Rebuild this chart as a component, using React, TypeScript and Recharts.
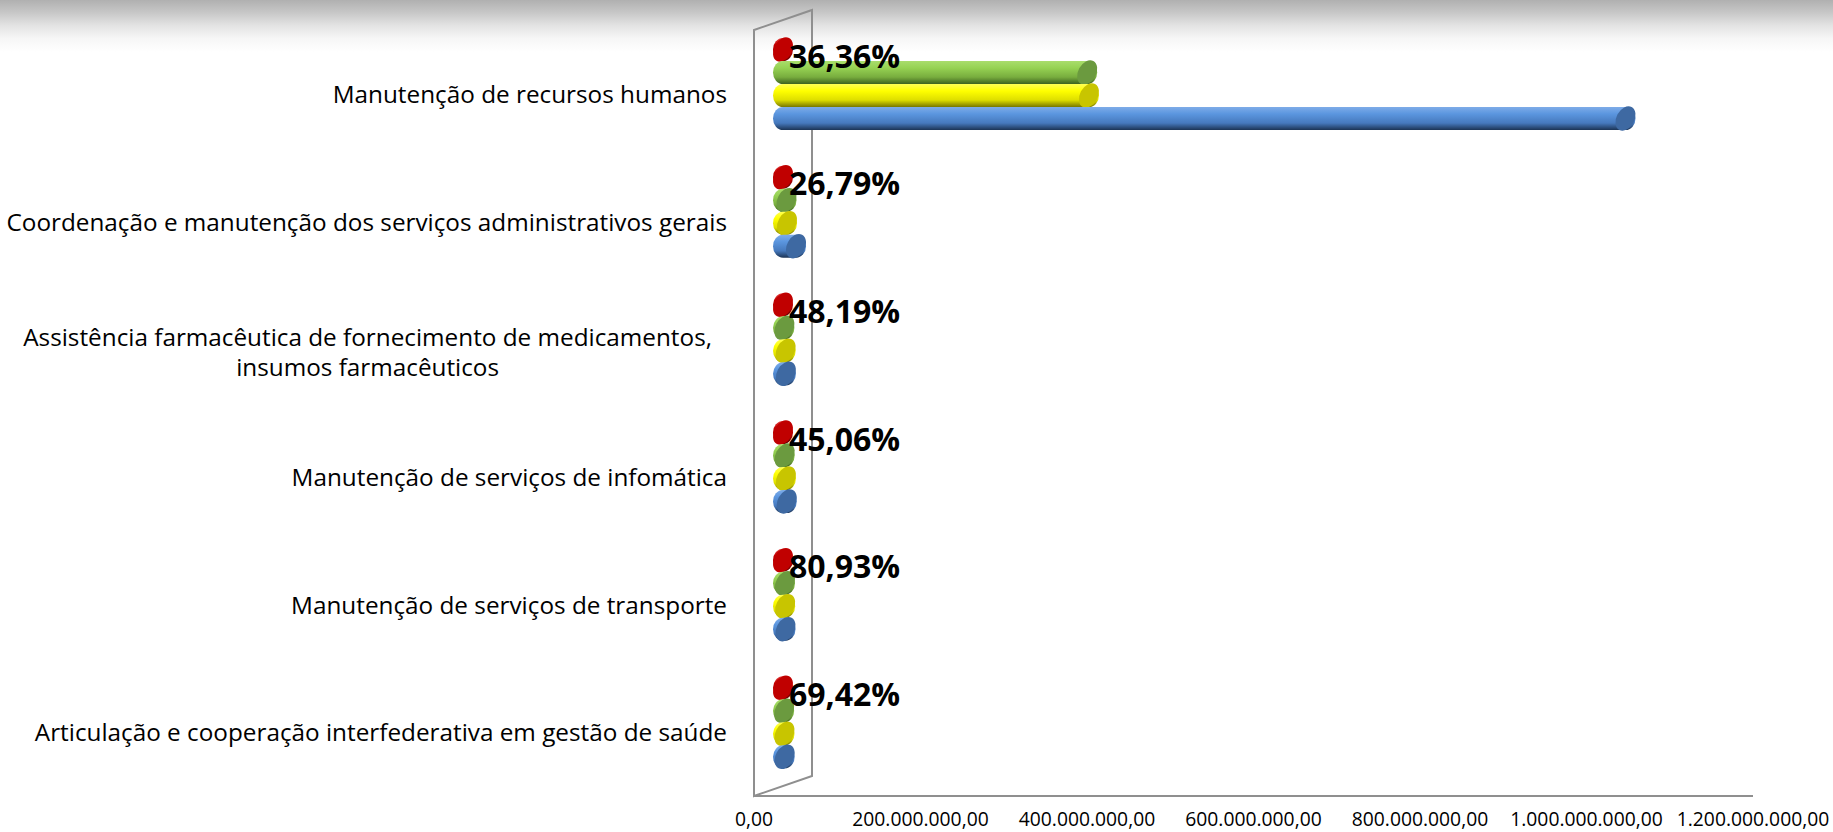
import { Bar, BarChart, Customized, LabelList, XAxis, YAxis } from 'recharts';

const categories = [
  'Manutenção de recursos humanos',
  'Coordenação e manutenção dos serviços administrativos gerais',
  'Assistência farmacêutica de fornecimento de medicamentos,\ninsumos farmacêuticos',
  'Manutenção de serviços de infomática',
  'Manutenção de serviços de transporte',
  'Articulação e cooperação interfederativa em gestão de saúde',
];
// red marker: % executed (drawn at ~0 on the money scale, only its label matters)
const percentExecuted = [36.36, 26.79, 48.19, 45.06, 80.93, 69.42];
const executed = [365400000, 4200000, 1700000, 2000000, 2400000, 1400000];
const updated = [367500000, 4800000, 3200000, 3500000, 2600000, 1800000];
const initial = [1012000000, 15600000, 3500000, 4500000, 3000000, 2000000];
const xTicks = [0, 200000000, 400000000, 600000000, 800000000, 1000000000, 1200000000];

const data = categories.map((name, i) => ({
  name,
  pct: percentExecuted[i],
  executed: executed[i],
  updated: updated[i],
  initial: initial[i],
}));

const W = 1833;
const H = 832;
const MARGIN = { top: 30, right: 80, bottom: 0, left: 0 };
const X_H = 36;
const Y_W = 754;
const DX = 29; // bars sit mid-depth of the 3d box
const DY = 10;
const FONT = '"Open Sans", sans-serif';

const tones: Record<string, { stops: string[]; cap: string }> = {
  red: { stops: ['#e23a3a', '#c40000', '#a00000', '#600000'], cap: '#c00000' },
  green: { stops: ['#a9dd6c', '#96d253', '#78ad3e', '#3d621f'], cap: '#6b9a3f' },
  yellow: { stops: ['#ffff55', '#ffff00', '#dede00', '#777700'], cap: '#c8c500' },
  blue: { stops: ['#7eace8', '#5b96df', '#4679bd', '#1c3455'], cap: '#3e69a2' },
};

let ctx: CanvasRenderingContext2D | null = null;
function textWidth(s: string, size: number) {
  if (!ctx) ctx = document.createElement('canvas').getContext('2d');
  if (!ctx) return s.length * size * 0.5;
  ctx.font = `${size}px ${FONT}`;
  return ctx.measureText(s).width;
}

function money(v: number) {
  return Math.round(v).toString().replace(/\B(?=(\d{3})+(?!\d))/g, '.') + ',00';
}

function Cylinder(props: any) {
  const { x, y, width, height, tone } = props;
  const t = tones[tone];
  const top = y - DY;
  const bot = y + height - DY;
  const cy = (top + bot) / 2;
  const ry = height / 2;
  const x0 = x + DX;
  const x1 = x + Math.max(width, 0) + DX;
  const rx = 10;
  const body = `M${x0},${top} L${x1},${top} A${rx},${ry} 0 0 1 ${x1},${bot} L${x0},${bot} A${rx},${ry} 0 0 1 ${x0},${top} Z`;
  return (
    <g>
      <path d={body} fill={`url(#body-${tone})`} />
      <ellipse cx={x1} cy={cy} rx={9} ry={ry + 1.5} fill={t.cap} transform={`rotate(28 ${x1} ${cy})`} />
    </g>
  );
}

function PctLabel(props: any) {
  const { x, y, height, value } = props;
  const txt = Number(value).toFixed(2).replace('.', ',') + '%';
  return (
    <text x={x + DX + 6} y={y + height / 2 - DY + 18} fontSize={32} fontWeight={700} fontFamily={FONT} fill="#000">
      {txt}
    </text>
  );
}

function CategoryTick(props: any) {
  const { x, y, payload } = props;
  const lines = String(payload.value).split('\n');
  const right = x - 27;
  const fs = 24.3;
  if (lines.length === 1) {
    return (
      <text x={right} y={y + 9} textAnchor="end" fontSize={fs} fontFamily={FONT} fill="#000">
        {lines[0]}
      </text>
    );
  }
  const widest = Math.max(...lines.map(l => textWidth(l, fs)));
  const cx = right - 15 - widest / 2;
  return (
    <g>
      {lines.map((l, i) => (
        <text key={i} x={cx} y={y + 12 + (i - (lines.length - 1) / 2) * 30} textAnchor="middle" fontSize={fs} fontFamily={FONT} fill="#000">
          {l}
        </text>
      ))}
    </g>
  );
}

function ValueTick(props: any) {
  const { x, y, payload } = props;
  return (
    <text x={x} y={y + 30} textAnchor="middle" fontSize={19.3} fontFamily={FONT} fill="#000">
      {money(payload.value)}
    </text>
  );
}

function Wall() {
  const left = Y_W;
  const top = MARGIN.top;
  const bottom = H - MARGIN.bottom - X_H;
  const bx = left + DX * 2;
  const d = `M${left},${bottom} L${left},${top} L${bx},${top - DY * 2} L${bx},${bottom - DY * 2} Z`;
  return <path d={d} fill="none" stroke="#8f8f8f" strokeWidth={2} />;
}

export default function App() {
  return (
    <div style={{ position: 'absolute', left: 0, top: 0, width: W, height: H, background: '#fff', overflow: 'hidden' }}>
      <div
        style={{
          position: 'absolute',
          left: 0,
          top: 0,
          width: W,
          height: 60,
          background: 'linear-gradient(to bottom, #b0b0b0 0px, #c6c6c6 12px, #e2e2e2 25px, #f6f6f6 38px, #ffffff 52px)',
        }}
      />
      <div style={{ position: 'absolute', left: 0, top: 0 }}>
        <BarChart width={W} height={H} data={data} layout="vertical" margin={MARGIN} barGap={0} barSize={23}>
          <defs>
            {Object.entries(tones).map(([k, t]) => (
              <linearGradient key={k} id={`body-${k}`} x1="0" y1="0" x2="0" y2="1">
                <stop offset="0%" stopColor={t.stops[0]} />
                <stop offset="30%" stopColor={t.stops[1]} />
                <stop offset="70%" stopColor={t.stops[2]} />
                <stop offset="100%" stopColor={t.stops[3]} />
              </linearGradient>
            ))}
          </defs>
          <Customized component={<Wall />} />
          <XAxis
            type="number"
            domain={[0, 1200000000]}
            ticks={xTicks}
            tick={<ValueTick />}
            tickLine={false}
            tickSize={0}
            tickMargin={0}
            axisLine={{ stroke: '#8f8f8f', strokeWidth: 2 }}
            height={X_H}
            interval={0}
          />
          <YAxis
            type="category"
            dataKey="name"
            width={Y_W}
            tick={<CategoryTick />}
            tickLine={false}
            tickSize={0}
            tickMargin={0}
            axisLine={false}
            interval={0}
          />
          <Bar dataKey="pct" isAnimationActive={false} shape={(p: any) => <Cylinder {...p} tone="red" />}>
            <LabelList dataKey="pct" content={<PctLabel />} />
          </Bar>
          <Bar dataKey="executed" isAnimationActive={false} shape={(p: any) => <Cylinder {...p} tone="green" />} />
          <Bar dataKey="updated" isAnimationActive={false} shape={(p: any) => <Cylinder {...p} tone="yellow" />} />
          <Bar dataKey="initial" isAnimationActive={false} shape={(p: any) => <Cylinder {...p} tone="blue" />} />
        </BarChart>
      </div>
    </div>
  );
}
